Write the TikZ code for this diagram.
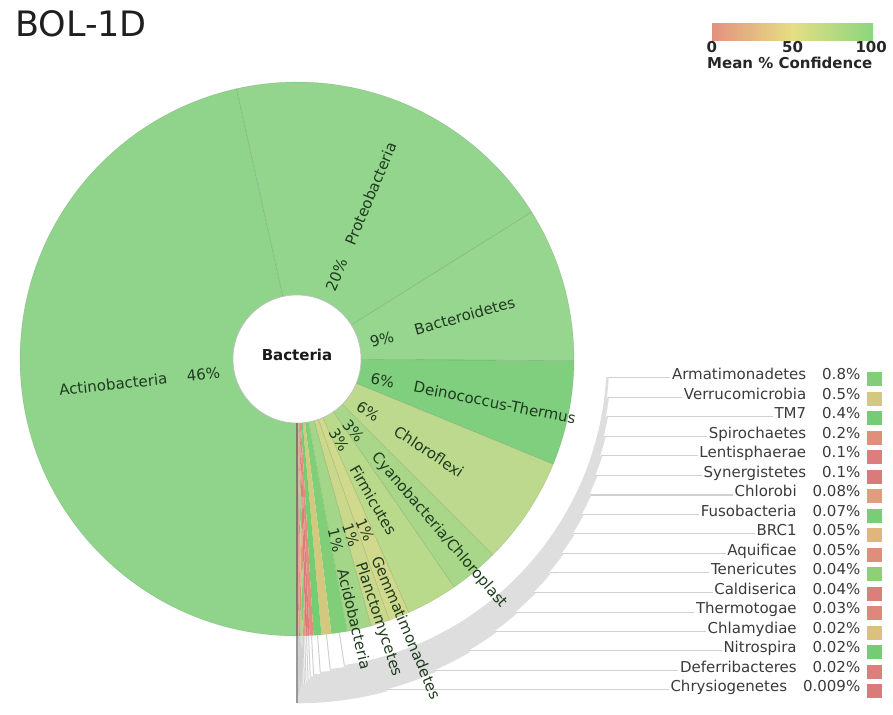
\documentclass[tikz,border=0pt]{standalone}
\usepackage{fontspec}
\setmainfont{DejaVu Sans}
\usetikzlibrary{calc}

% phylum wedge colours
\definecolor{cAct}{HTML}{90D48C}
\definecolor{cPro}{HTML}{93D58D}
\definecolor{cBac}{HTML}{96D68F}
\definecolor{cDei}{HTML}{80CF7E}
\definecolor{cChf}{HTML}{BCD98D}
\definecolor{cCya}{HTML}{A9D78A}
\definecolor{cFir}{HTML}{B9D98B}
\definecolor{cGem}{HTML}{D1D98C}
\definecolor{cPla}{HTML}{C9D88B}
\definecolor{cAci}{HTML}{A3D689}
% keyed (small) phyla
\definecolor{kArm}{HTML}{80CF78}
\definecolor{kVer}{HTML}{D2C97E}
\definecolor{kTM}{HTML}{74CD72}
\definecolor{kSpi}{HTML}{E0907A}
\definecolor{kLen}{HTML}{DC7E7E}
\definecolor{kSyn}{HTML}{DA7B7B}
\definecolor{kChl}{HTML}{E09C7C}
\definecolor{kFus}{HTML}{78CE74}
\definecolor{kBRC}{HTML}{DFB77E}
\definecolor{kAqu}{HTML}{DF8E79}
\definecolor{kTen}{HTML}{8FCF76}
\definecolor{kCal}{HTML}{DC7E7C}
\definecolor{kThe}{HTML}{DD887B}
\definecolor{kChy}{HTML}{DBC07E}
\definecolor{kNit}{HTML}{74CD72}
\definecolor{kDef}{HTML}{DC7E7C}
\definecolor{kChr}{HTML}{DA7A7A}
% text and lines
\definecolor{labtxt}{HTML}{1F3B1F}
\definecolor{keytxt}{HTML}{3A3A3A}
\definecolor{leadgray}{HTML}{D0D0D0}
\definecolor{bandgray}{HTML}{DEDEDE}
\definecolor{startln}{HTML}{85776E}
\definecolor{gLo}{HTML}{E3917F}
\definecolor{gMid}{HTML}{E6DE84}
\definecolor{gHi}{HTML}{8AD67E}

\begin{document}
\begin{tikzpicture}[x=1pt,y=1pt,
  plab/.style={text=labtxt, font=\fontsize{15}{18}\selectfont, inner sep=0pt},
  keylab/.style={text=keytxt, font=\fontsize{15}{18}\selectfont, inner sep=1.5pt, anchor=base east},
  keybox/.style={minimum width=15pt, minimum height=14pt, inner sep=0pt},
  wedge/.style={draw=black, draw opacity=0.1, line width=0.6pt},
  leader/.style={draw=leadgray, line width=1pt},
  band/.style={draw=bandgray, line width=2.6pt},
  legtxt/.style={text=black!85, font=\bfseries\fontsize{15}{18}\selectfont, inner sep=0pt}]
\useasboundingbox (0,0) rectangle (893,-714);
\coordinate (c) at (297,-359);

% title
\node[anchor=base west, inner sep=0pt, text=black!88, font=\fontsize{35}{40}\selectfont] (title) at (15,-37) {BOL-1D};

% phylum wedges, clockwise from the bottom
\foreach \col/\sa/\sb in {cAct/270/102.6, cPro/102.6/32.04, cBac/32.04/-0.36,
    cDei/-0.36/-22.32, cChf/-22.32/-45, cCya/-45/-55.44, cFir/-55.44/-66.24,
    cGem/-66.24/-70.56, cPla/-70.56/-74.52, cAci/-74.52/-79.56}
  \path[fill=\col, wedge] (c) -- ($(c)+(\sa:277)$) arc[start angle=\sa, end angle=\sb, radius=277] -- cycle;

% keyed phyla: wedge, key entry and leader line
\foreach \nm/\pc/\col/\sa/\sb/\sm [count=\i from 0] in {
    Armatimonadetes/0.8\%/kArm/-79.56/-82.8625/-81.211,
    Verrucomicrobia/0.5\%/kVer/-82.8625/-84.9266/-83.895,
    TM7/0.4\%/kTM/-84.9266/-86.5778/-85.752,
    Spirochaetes/0.2\%/kSpi/-86.5778/-87.4034/-86.991,
    Lentisphaerae/0.1\%/kLen/-87.4034/-87.8162/-87.610,
    Synergistetes/0.1\%/kSyn/-87.8162/-88.2291/-88.023,
    Chlorobi/0.08\%/kChl/-88.2291/-88.5593/-88.394,
    Fusobacteria/0.07\%/kFus/-88.5593/-88.8483/-88.704,
    BRC1/0.05\%/kBRC/-88.8483/-89.0547/-88.952,
    Aquificae/0.05\%/kAqu/-89.0547/-89.2611/-89.158,
    Tenericutes/0.04\%/kTen/-89.2611/-89.4262/-89.344,
    Caldiserica/0.04\%/kCal/-89.4262/-89.5913/-89.509,
    Thermotogae/0.03\%/kThe/-89.5913/-89.7152/-89.653,
    Chlamydiae/0.02\%/kChy/-89.7152/-89.7977/-89.756,
    Nitrospira/0.02\%/kNit/-89.7977/-89.8803/-89.839,
    Deferribacteres/0.02\%/kDef/-89.8803/-89.9629/-89.922,
    Chrysiogenetes/0.009\%/kChr/-89.9629/-90/-89.981}
{
  \pgfmathsetmacro\rr{311+2*\i}
  \pgfmathsetmacro\Y{378+19.5*\i}
  \pgfmathsetmacro\ph{asin((359-\Y)/\rr)}
  \path[fill=\col] (c) -- ($(c)+(\sa:277)$) arc[start angle=\sa, end angle=\sb, radius=277] -- cycle;
  \node[keylab] (lab\i) at (862,-\Y-1.5) {\nm\hspace{16pt}\pc};
  \node[keybox, fill=\col] (box\i) at (874.5,-\Y-1) {};
  \coordinate (k\i) at ($(c)+(\sm:277)$);
  \coordinate (b\i) at ($(c)+(\sm:\rr)$);
  \coordinate (e\i) at ($(c)+(\ph:\rr)$);
  \draw[leader] (k\i) -- (b\i);
  \draw[band] (b\i) arc[start angle=\sm, end angle=\ph, radius=\rr];
  \draw[leader] (e\i) -- (lab\i.west |- e\i);
}

% centre disc and the start line of the ring
\node[circle, fill=white, draw=black!25, line width=0.6pt, minimum size=128pt, inner sep=0pt] (root) at (c) {};
\coordinate (rim) at ($(c)+(-90:277)$);
\coordinate (foot) at ($(c)+(-90:344)$);
\draw[startln, line width=1.3pt] (root.south) -- (rim);
\draw[black!40, line width=1.1pt] (rim) -- (foot);
\node[inner sep=0pt, text=black!90, font=\bfseries\fontsize{15}{18}\selectfont] (bact) at (297,-355) {Bacteria};

% wedge labels, left half (read towards the centre)
\node[plab, rotate=6.3, anchor=east] (lAct) at ($(c)+(186.3:131)+(-83.7:5)$) {Actinobacteria};
\node[plab, rotate=6.3, anchor=east] (pAct) at ($(c)+(186.3:78)+(-83.7:5)$) {46\%};
% wedge labels, right half (read outwards)
\node[plab, rotate=67.3, anchor=west] (pPro) at ($(c)+(67.3:76)+(-22.7:4)$) {20\%};
\node[plab, rotate=67.3, anchor=west] (lPro) at ($(c)+(67.3:126)+(-22.7:4)$) {Proteobacteria};
\node[plab, rotate=15.8, anchor=west] (pBac) at ($(c)+(15.8:75)+(-74.2:4)$) {9\%};
\node[plab, rotate=15.8, anchor=west] (lBac) at ($(c)+(15.8:121)+(-74.2:4)$) {Bacteroidetes};
\node[plab, rotate=-11.3, anchor=west] (pDei) at ($(c)+(-11.3:76)+(-101.3:4)$) {6\%};
\node[plab, rotate=-11.3, anchor=west] (lDei) at ($(c)+(-11.3:120)+(-101.3:4)$) {Deinococcus-Thermus};
\node[plab, rotate=-33.6, anchor=west] (pChf) at ($(c)+(-33.6:76)+(-123.6:4)$) {6\%};
\node[plab, rotate=-33.6, anchor=west] (lChf) at ($(c)+(-33.6:121)+(-123.6:4)$) {Chloroflexi};
\node[plab, rotate=-49.3, anchor=west] (pCya) at ($(c)+(-49.3:79)+(-139.3:4)$) {3\%};
\node[plab, rotate=-49.3, anchor=west] (lCya) at ($(c)+(-49.3:123)+(-139.3:4)$) {Cyanobacteria/Chloroplast};
\node[plab, rotate=-60, anchor=west] (pFir) at ($(c)+(-60:79)+(-150:4)$) {3\%};
\node[plab, rotate=-60, anchor=west] (lFir) at ($(c)+(-60:122)+(-150:4)$) {Firmicutes};
\node[plab, rotate=-67, anchor=west] (pGem) at ($(c)+(-67:172)+(-157:4)$) {1\%};
\node[plab, rotate=-67, anchor=west] (lGem) at ($(c)+(-67:213)+(-157:4)$) {Gemmatimonadetes};
\node[plab, rotate=-71.8, anchor=west] (pPla) at ($(c)+(-71.8:172)+(-161.8:4)$) {1\%};
\node[plab, rotate=-71.8, anchor=west] (lPla) at ($(c)+(-71.8:213)+(-161.8:4)$) {Planctomycetes};
\node[plab, rotate=-76.7, anchor=west] (pAci) at ($(c)+(-76.7:173)+(-166.7:4)$) {1\%};
\node[plab, rotate=-76.7, anchor=west] (lAci) at ($(c)+(-76.7:215)+(-166.7:4)$) {Acidobacteria};

% confidence colour scale (middle colour set last so it is kept)
\node[minimum width=161pt, minimum height=17pt, inner sep=0pt,
      left color=gLo, right color=gHi, middle color=gMid] (bar) at (792.5,-32.5) {};
\node[legtxt, anchor=base] (t0) at (bar.south west |- 0,-53) {0};
\node[legtxt, anchor=base] (t50) at (bar.south |- 0,-53) {50};
\node[legtxt, anchor=base east] (t100) at (887,-53) {100};
\node[legtxt, anchor=base west] (tmean) at (707,-69) {Mean \% Confidence};
\end{tikzpicture}
\end{document}
